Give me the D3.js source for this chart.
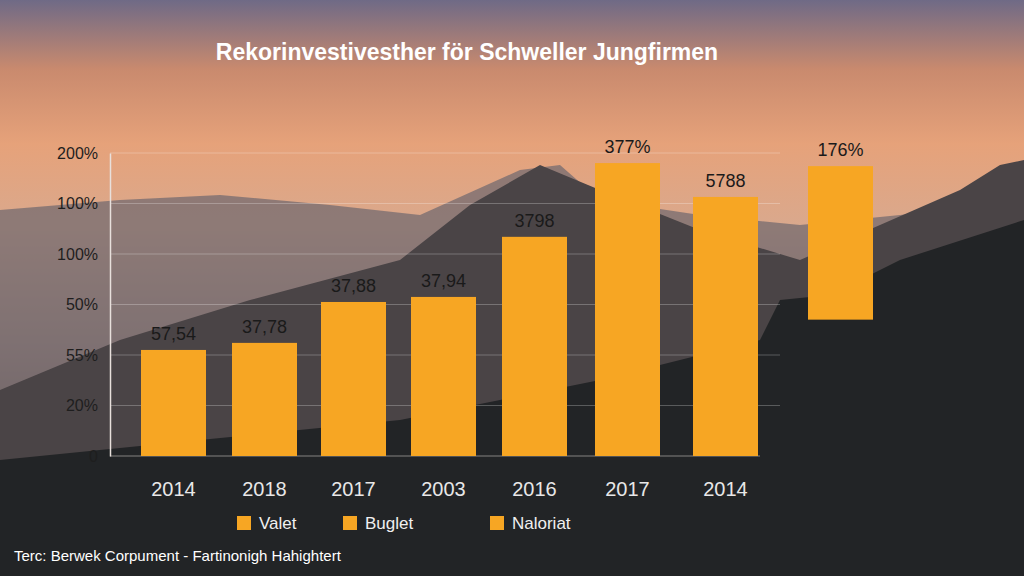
<!DOCTYPE html>
<html>
<head>
<meta charset="UTF-8">
<script src="https://cdn.jsdelivr.net/npm/d3@7"></script>
<style>
body{margin:0;overflow:hidden;}
text{font-family:"Liberation Sans",Arial,sans-serif;}
</style>
</head>
<body>
<svg id="chart" width="1024" height="576"></svg>
<script>
// data
var categories = ["2014","2018","2017","2003","2016","2017","2014",""];
var values = [2.1, 2.24, 3.05, 3.15, 4.34, 5.8, 5.13, 5.74];
var barLabels = ["57,54","37,78","37,88","37,94","3798","377%","5788","176%"];
var tickLabels = ["0","20%","55%","50%","100%","100%","200%"];
var legendNames = ["Valet","Buglet","Naloriat"];

var svg = d3.select("#chart");
var defs = svg.append("defs");
var sky = defs.append("linearGradient").attr("id","sky").attr("x1",0).attr("y1",0).attr("x2",0).attr("y2",1);
[["0%","#6f6a86"],["12%","#c98a6e"],["25%","#e6a27a"],["40%","#d9a98e"],["60%","#8d7b78"],["80%","#3f3b3b"],["100%","#1c1d1f"]]
  .forEach(function(s){ sky.append("stop").attr("offset",s[0]).attr("stop-color",s[1]); });
svg.append("rect").attr("width",1024).attr("height",576).attr("fill","url(#sky)");

// mountains (background decoration)
svg.append("path").attr("fill","#7a6e70").attr("opacity",0.8)
  .attr("d","M0,210 L120,200 L220,195 L330,205 L420,215 L520,170 L560,165 L600,200 L700,215 L800,225 L900,215 L1024,200 L1024,576 L0,576 Z");
svg.append("path").attr("fill","#4a4446")
  .attr("d","M0,390 L120,340 L250,300 L400,260 L470,205 L540,165 L600,190 L700,230 L800,260 L880,225 L960,190 L1000,165 L1024,160 L1024,576 L0,576 Z");
svg.append("path").attr("fill","#222426")
  .attr("d","M0,460 L200,440 L400,420 L600,380 L760,340 L780,300 L830,295 L900,260 L1024,220 L1024,576 L0,576 Z");

var base = 456, step = 50.5;
var y = d3.scaleLinear().domain([0,6]).range([base, base - 6*step]);
var xs = [141,232,321,411,502,595,693,808];
var w = 65;

// gridlines
svg.append("g").selectAll("line").data(d3.range(1,7)).join("line")
  .attr("x1",110).attr("x2",780).attr("y1",function(d){return y(d);}).attr("y2",function(d){return y(d);})
  .attr("stroke","#ffffff").attr("stroke-opacity",0.25);

var yAxis = d3.axisLeft(y).tickValues(d3.range(0,7)).tickSize(0).tickPadding(12)
  .tickFormat(function(d){return tickLabels[d];});
var ga = svg.append("g").attr("transform","translate(110,0)").call(yAxis);
ga.select(".domain").attr("stroke","#e8e0dc").attr("stroke-width",1.5);
ga.selectAll("text").attr("font-size",16).attr("fill","#1e1e1e");

svg.append("line").attr("x1",110).attr("x2",760).attr("y1",base).attr("y2",base)
  .attr("stroke","#e8e0dc").attr("stroke-opacity",0.5);

svg.append("g").selectAll("rect").data(values).join("rect")
  .attr("x",function(d,i){return xs[i];}).attr("width",w)
  .attr("y",function(d){return y(d);})
  .attr("height",function(d,i){return (i==7 ? y(2.7) : base) - y(d);})
  .attr("fill","#f7a623");

svg.append("g").selectAll("text").data(values).join("text")
  .attr("x",function(d,i){return xs[i]+w/2;}).attr("y",function(d){return y(d)-10;})
  .attr("text-anchor","middle").attr("font-size",18).attr("fill","#1a1a1a")
  .text(function(d,i){return barLabels[i];});

svg.append("g").selectAll("text").data(categories).join("text")
  .attr("x",function(d,i){return xs[i]+w/2;}).attr("y",496)
  .attr("text-anchor","middle").attr("font-size",20).attr("fill","#e8e8e8")
  .text(function(d){return d;});

var lx = [237,343,490];
var lg = svg.append("g").selectAll("g").data(legendNames).join("g")
  .attr("transform",function(d,i){return "translate("+lx[i]+",516)";});
lg.append("rect").attr("width",14).attr("height",14).attr("fill","#f7a623");
lg.append("text").attr("x",22).attr("y",13).attr("font-size",17).attr("fill","#f0f0f0").text(function(d){return d;});

svg.append("text").attr("x",467).attr("y",60).attr("text-anchor","middle")
  .attr("font-size",23).attr("font-weight","bold").attr("fill","#ffffff")
  .text("Rekorinvestivesther för Schweller Jungfirmen");

svg.append("text").attr("x",14).attr("y",561).attr("font-size",15).attr("fill","#ffffff")
  .text("Terc: Berwek Corpument - Fartinonigh Hahightert");
</script>
</html>
